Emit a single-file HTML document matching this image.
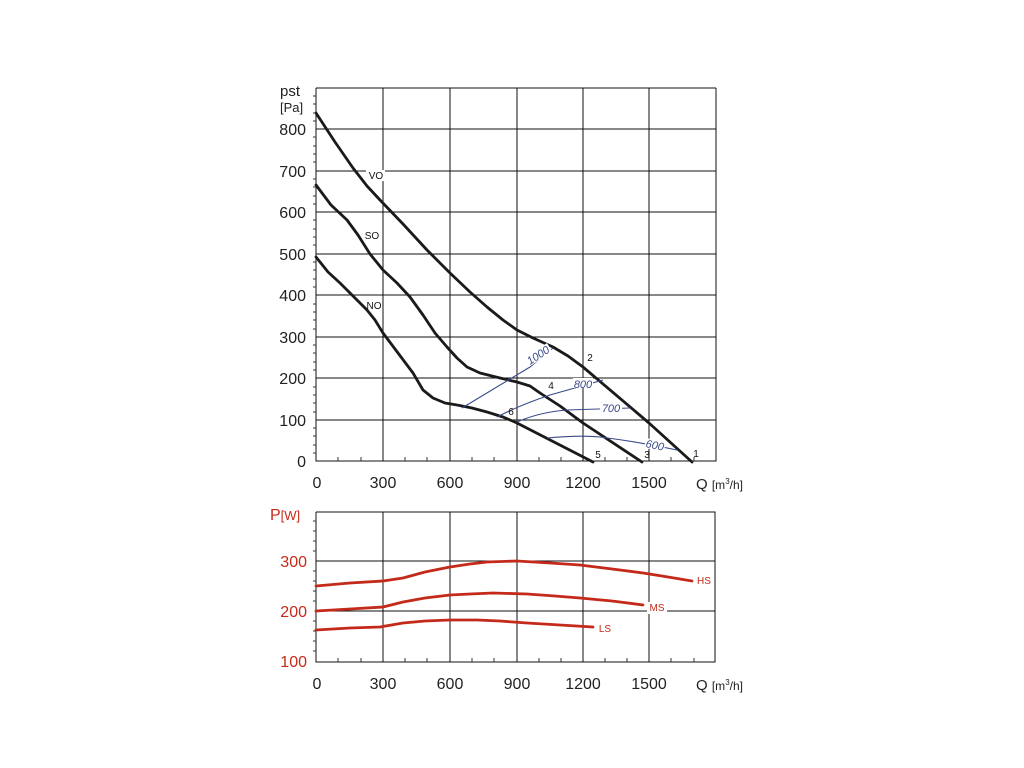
<!DOCTYPE html>
<html><head><style>body{margin:0;background:#fff}svg{display:block}</style></head><body>
<svg width="1024" height="768" viewBox="0 0 1024 768" xmlns="http://www.w3.org/2000/svg" font-family="Liberation Sans, sans-serif">
<rect width="1024" height="768" fill="#fff"/>
<g stroke="#111" stroke-width="1" fill="none">
<path d="M316 88V461H716V88M383 88V461M450 88V461M517 88V461M583 88V461M649 88V461M316 88H716M316 129H716M316 171H716M316 212H716M316 254H716M316 295H716M316 337H716M316 378H716M316 420H716"/>
<path d="M316 512V662H715V512H316M383 512V662M450 512V662M517 512V662M583 512V662M649 512V662M316 561H715M316 611H715"/>
</g>
<g fill="none" stroke="#1a1a1a" stroke-width="2.8" stroke-linecap="round" stroke-linejoin="round">
<path d="M316 113 L335 142 L353 168 L367 186 L380 200 L403 224 L427 250 L450 273 L470 292 L487 307 L503 320 L517 330 L533 338 L553 347 L568 356 L583 367 L649 423 L692 462"/>
<path d="M316 185 L331 205 L347 220 L358 235 L370 254 L383 270 L397 283 L410 297 L423 315 L435 333 L447 347 L457 358 L467 367 L480 373 L500 378 L517 382 L530 386 L540 393 L560 406 L583 423 L642 462"/>
<path d="M316 257 L328 272 L340 283 L353 296 L367 310 L375 320 L383 333 L398 353 L413 373 L423 390 L433 398 L445 403 L457 405 L472 408 L487 412 L503 417 L517 423 L593 462"/>
</g>
<g fill="none" stroke="#3a4a8a" stroke-width="1.1">
<path d="M462 408 L530 367 Q545 355 553 348"/>
<path d="M497 417 Q520 405 550 395 L603 380"/>
<path d="M517 422 Q540 412 567 410 L630 408"/>
<path d="M547 438 Q580 435 600 437 Q640 442 677 450"/>
</g>
<g fill="#3a4a8a" font-size="11" font-style="italic">
<rect x="524" y="350" width="28" height="10" fill="#fff" transform="rotate(-33 538 355)"/>
<text x="538" y="359" text-anchor="middle" transform="rotate(-33 538 355)">1000</text>
<rect x="573" y="378" width="20" height="10" fill="#fff"/><text x="583" y="388" text-anchor="middle">800</text>
<rect x="600" y="402" width="22" height="10" fill="#fff"/><text x="611" y="412" text-anchor="middle">700</text>
<rect x="645" y="440" width="20" height="10" fill="#fff" transform="rotate(12 655 445)"/><text x="655" y="449" text-anchor="middle" transform="rotate(12 655 445)">600</text>
</g>
<g fill="#111" font-size="10" text-anchor="middle">
<rect x="366" y="170" width="19" height="11" fill="#fff"/><text x="376" y="179">VO</text>
<text x="372" y="239">SO</text><text x="374" y="309">NO</text>
<text x="590" y="361">2</text><text x="696" y="457">1</text><text x="647" y="458">3</text><text x="598" y="458">5</text><text x="551" y="389">4</text><text x="511" y="415">6</text>
</g>
<g fill="none" stroke="#c42a1a" stroke-width="2.8" stroke-linecap="round" stroke-linejoin="round">
<path d="M316 586 L350 583 L383 581 L403 578 L425 572 L450 567 L470 564 L487 562 L517 561 L550 563 L580 565 L612 569 L643 573 L668 577 L692 581"/>
<path d="M316 611 L350 609 L383 607 L403 602 L425 598 L450 595 L470 594 L493 593 L527 594 L555 596 L580 598 L612 601 L643 605"/>
<path d="M316 630 L350 628 L380 627 L403 623 L425 621 L450 620 L477 620 L500 621 L527 623 L560 625 L593 627"/>
</g>
<g fill="#c42a1a" font-size="10" text-anchor="middle">
<text x="704" y="584">HS</text><rect x="647" y="602" width="20" height="12" fill="#fff"/><text x="657" y="611">MS</text><text x="605" y="632">LS</text>
</g>
<g fill="#222" font-size="16" text-anchor="end">
<text x="306" y="467">0</text><text x="306" y="426">100</text><text x="306" y="384">200</text><text x="306" y="343">300</text><text x="306" y="301">400</text><text x="306" y="260">500</text><text x="306" y="218">600</text><text x="306" y="177">700</text><text x="306" y="135">800</text>
</g>
<text x="280" y="96" font-size="15" fill="#222">pst</text>
<text x="280" y="112" font-size="13" fill="#222">[Pa]</text>
<g fill="#222" font-size="16" text-anchor="middle">
<text x="317" y="488">0</text><text x="383" y="488">300</text><text x="450" y="488">600</text><text x="517" y="488">900</text><text x="583" y="488">1200</text><text x="649" y="488">1500</text>
<text x="317" y="689">0</text><text x="383" y="689">300</text><text x="450" y="689">600</text><text x="517" y="689">900</text><text x="583" y="689">1200</text><text x="649" y="689">1500</text>
</g>
<text x="696" y="489" font-size="15" fill="#222">Q <tspan font-size="12">[m<tspan font-size="8" dy="-5">3</tspan><tspan dy="5">/h]</tspan></tspan></text>
<text x="696" y="690" font-size="15" fill="#222">Q <tspan font-size="12">[m<tspan font-size="8" dy="-5">3</tspan><tspan dy="5">/h]</tspan></tspan></text>
<g fill="#c42a1a" font-size="16" text-anchor="end">
<text x="307" y="567">300</text><text x="307" y="617">200</text><text x="307" y="667">100</text>
</g>
<text x="270" y="520" font-size="16" fill="#c42a1a">P<tspan font-size="13">[W]</tspan></text>
<g stroke="#333" stroke-width="1">
<path d="M316 96h-3M316 104h-3M316 113h-3M316 121h-3M316 137h-3M316 146h-3M316 154h-3M316 162h-3M316 179h-3M316 187h-3M316 196h-3M316 204h-3M316 220h-3M316 229h-3M316 237h-3M316 245h-3M316 262h-3M316 270h-3M316 279h-3M316 287h-3M316 304h-3M316 312h-3M316 320h-3M316 329h-3M316 345h-3M316 353h-3M316 362h-3M316 370h-3M316 387h-3M316 395h-3M316 403h-3M316 412h-3M316 428h-3M316 436h-3M316 445h-3M316 453h-3"/>
<path d="M338 461v-4M361 461v-4M405 461v-4M427 461v-4M472 461v-4M494 461v-4M539 461v-4M561 461v-4M605 461v-4M627 461v-4M671 461v-4M694 461v-4"/>
<path d="M338 662v-4M361 662v-4M405 662v-4M427 662v-4M472 662v-4M494 662v-4M539 662v-4M561 662v-4M605 662v-4M627 662v-4M671 662v-4M694 662v-4"/>
<path d="M316 521h-3M316 531h-3M316 541h-3M316 551h-3M316 571h-3M316 581h-3M316 591h-3M316 601h-3M316 621h-3M316 631h-3M316 641h-3M316 651h-3"/>
</g>
</svg>
</body></html>
